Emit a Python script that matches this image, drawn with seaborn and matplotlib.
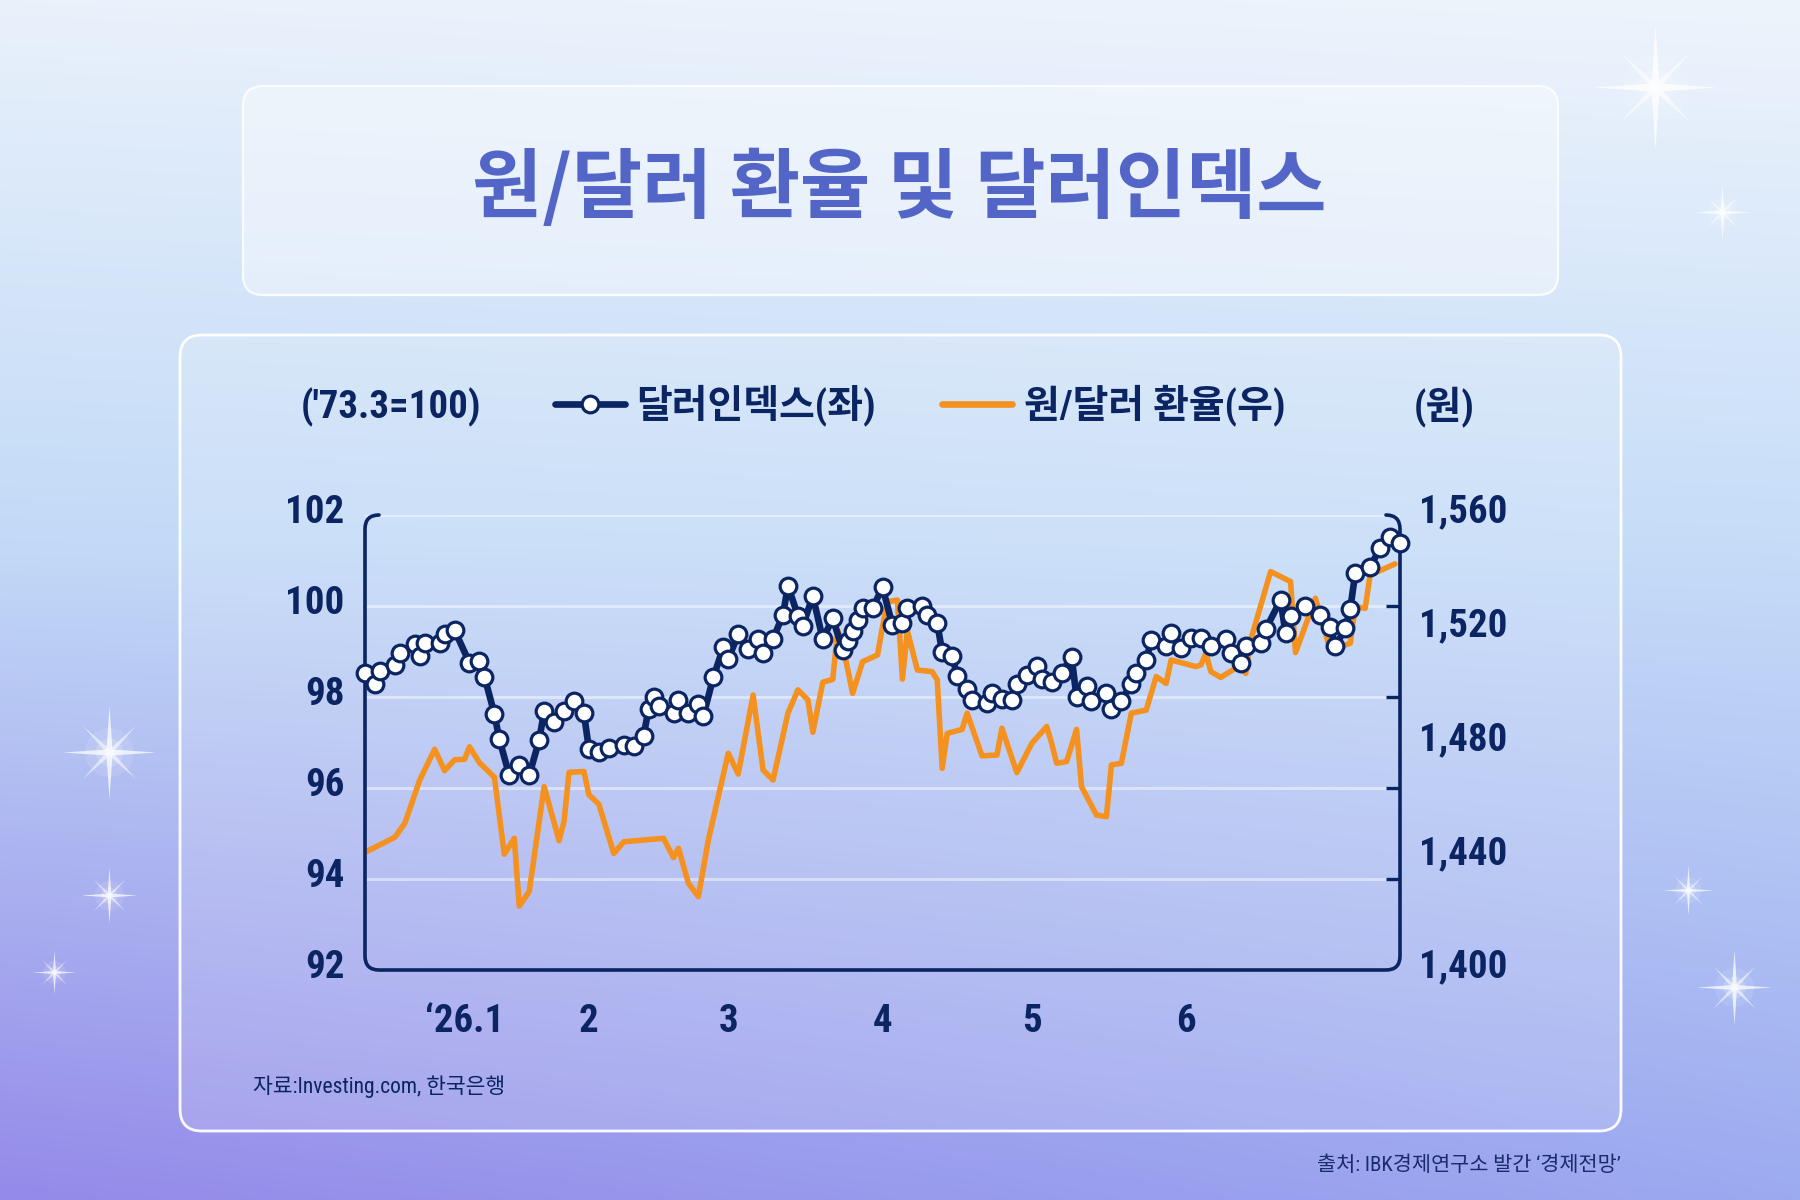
import numpy as np
import pandas as pd
import matplotlib.pyplot as plt
import seaborn as sns
from matplotlib import font_manager as fm
from matplotlib.lines import Line2D
from matplotlib.patches import FancyBboxPatch, PathPatch
from matplotlib.path import Path
from matplotlib.transforms import ScaledTranslation

# days counted from 2025-12-20
START = pd.Timestamp("2025-12-20")

dollar_day = [0, 2, 3, 6, 7, 10, 11, 12, 15, 16, 18, 21, 23, 24, 26, 27, 29, 31, 33, 35,
              36, 38, 40, 42, 44, 45, 47, 49, 52, 54, 56, 57, 58, 59, 62, 63, 65, 67, 68, 70,
              72, 73, 75, 77, 79, 80, 82, 84, 85, 87, 88, 90, 92, 94, 96, 97, 98, 99, 100, 102,
              104, 106, 108, 109, 112, 113, 115, 116, 118, 119, 121, 122, 125, 126, 128, 130,
              131, 133, 135, 136, 138, 140, 142, 143, 145, 146, 149, 150, 152, 154, 155, 157,
              158, 161, 162, 164, 166, 168, 170, 173, 174, 176, 177, 180, 181, 184, 185, 186,
              189, 192, 194, 195, 197, 198, 199, 202, 204, 206, 208]
dollar_index = [98.52, 98.29, 98.58, 98.70, 98.97, 99.16, 98.91, 99.18, 99.18, 99.38,
                99.47, 98.75, 98.80, 98.45, 97.63, 97.07, 96.28, 96.50, 96.28, 97.05,
                97.69, 97.44, 97.69, 97.91, 97.64, 96.86, 96.80, 96.89, 96.95, 96.93,
                97.15, 97.74, 98.00, 97.81, 97.65, 97.93, 97.65, 97.85, 97.59, 98.43,
                99.09, 98.83, 99.38, 99.05, 99.27, 98.97, 99.27, 99.81, 100.44, 99.79,
                99.57, 100.22, 99.27, 99.73, 99.03, 99.22, 99.45, 99.69, 99.95, 99.95,
                100.41, 99.58, 99.63, 99.95, 100.00, 99.80, 99.63, 98.98, 98.91, 98.46,
                98.18, 97.93, 97.86, 98.08, 97.96, 97.93, 98.28, 98.48, 98.68, 98.39,
                98.34, 98.53, 98.89, 97.99, 98.25, 97.92, 98.08, 97.74, 97.92, 98.29,
                98.53, 98.81, 99.25, 99.11, 99.40, 99.08, 99.29, 99.29, 99.13, 99.27,
                98.96, 98.75, 99.13, 99.19, 99.49, 100.13, 99.40, 99.79, 100.00, 99.80,
                99.53, 99.11, 99.51, 99.93, 100.72, 100.85, 101.28, 101.51, 101.38]

won_day = [0, 4, 6, 8, 11, 14, 16, 18, 20, 21, 23, 26, 28, 30, 31, 33, 36, 39, 40, 41,
           44, 45, 47, 50, 52, 60, 62, 63, 65, 67, 69, 73, 75, 78, 80, 82, 85, 87, 89, 90,
           92, 94, 95, 96, 98, 100, 103, 104, 105, 107, 108, 109, 111, 114, 115, 116, 117,
           120, 121, 124, 127, 128, 131, 134, 137, 138, 139, 141, 143, 144, 147, 149, 150,
           152, 154, 157, 159, 161, 162, 167, 168, 169, 170, 172, 176, 177, 178, 182, 186,
           187, 191, 194, 198, 199, 201, 202, 207]
won_rate = [1441.4, 1444.9, 1446.7, 1451.6, 1466.8, 1477.6, 1470.1, 1473.9, 1474.1, 1478.5,
            1472.9, 1467.8, 1440.7, 1446.3, 1422.5, 1427.6, 1464.5, 1445.5, 1452.2, 1469.5,
            1469.8, 1461.6, 1458.3, 1441.0, 1445.1, 1446.3, 1439.5, 1442.8, 1430.5, 1425.8,
            1445.7, 1476.2, 1468.9, 1496.7, 1470.3, 1466.8, 1490.3, 1498.5, 1495.0, 1483.6,
            1501.2, 1502.2, 1519.6, 1514.3, 1497.3, 1508.4, 1510.8, 1520.7, 1529.5, 1530.1,
            1502.3, 1519.3, 1505.5, 1504.9, 1502.0, 1470.9, 1483.2, 1484.6, 1490.3, 1475.3,
            1475.6, 1485.0, 1469.4, 1479.7, 1485.6, 1479.7, 1472.7, 1473.3, 1484.6, 1464.5,
            1454.5, 1453.9, 1472.1, 1472.7, 1490.3, 1491.4, 1503.2, 1500.8, 1509.0, 1506.7,
            1507.3, 1511.4, 1504.9, 1502.9, 1507.3, 1504.3, 1516.1, 1540.1, 1536.6, 1511.6,
            1530.7, 1512.5, 1514.9, 1527.8, 1527.2, 1538.9, 1542.8]

month_ticks = ["2026-01-01", "2026-02-01", "2026-03-01", "2026-04-01", "2026-05-01", "2026-06-01"]
month_labels = ["‘26.1", "2", "3", "4", "5", "6"]
left_ticks = [92, 94, 96, 98, 100, 102]
left_marks = [94, 96, 98, 100]
right_ticks = [1400, 1440, 1480, 1520, 1560]

TITLE = "원/달러 환율 및 달러인덱스"
LEGEND_LABELS = ["달러인덱스(좌)", "원/달러 환율(우)"]
LEFT_UNIT = "('73.3=100)"
RIGHT_UNIT = "(원)"
SOURCE = "자료:Investing.com, 한국은행"
CREDIT = "출처: IBK경제연구소 발간 ‘경제전망’"

NAVY = "#0b2462"
ORANGE = "#f4911f"
TITLE_BLUE = "#5366c8"

LMIN, LMAX = 92, 102
RMIN, RMAX = 1400, 1560

MS, MEW = 12, 2.3


def won_of(v):
    return RMIN + (v - LMIN) * (RMAX - RMIN) / (LMAX - LMIN)


sns.set_theme(style="white")
installed = {f.name for f in fm.fontManager.ttflist}
NARROW = next((n for n in ["Liberation Sans Narrow", "Roboto Condensed", "Noto Sans CJK KR"]
               if n in installed), "DejaVu Sans")
FAM = [NARROW, "Noto Sans CJK KR", "DejaVu Sans"]
plt.rcParams["font.family"] = FAM

dollar = pd.DataFrame({"date": START + pd.to_timedelta(dollar_day, unit="D"),
                       "value": dollar_index})
won = pd.DataFrame({"date": START + pd.to_timedelta(won_day, unit="D"),
                    "value": won_rate})

fig = plt.figure(figsize=(18, 12), dpi=100)

# background gradient, in pixel coordinates
bg = fig.add_axes([0, 0, 1, 1])
H, W = 300, 450
t = np.linspace(0, 1, H)
stops = [0, 0.45, 1]
left_cols = np.array([[233, 241, 251], [194, 218, 247], [148, 138, 233]]) / 255
right_cols = np.array([[238, 244, 252], [198, 221, 248], [156, 170, 240]]) / 255
lc = np.stack([np.interp(t, stops, left_cols[:, c]) for c in range(3)], axis=-1)
rc = np.stack([np.interp(t, stops, right_cols[:, c]) for c in range(3)], axis=-1)
s = np.linspace(0, 1, W)[None, :, None]
img = lc[:, None, :] * (1 - s) + rc[:, None, :] * s
bg.imshow(img, extent=(0, 1800, 1200, 0), aspect="auto", interpolation="bicubic")
bg.set_xlim(0, 1800)
bg.set_ylim(1200, 0)
bg.axis("off")

# frosted panels
bg.add_patch(FancyBboxPatch((243, 86), 1315, 209, boxstyle="round,pad=0,rounding_size=20",
                            facecolor=(1, 1, 1, 0.38), edgecolor=(1, 1, 1, 0.85), lw=1.6))
bg.add_patch(FancyBboxPatch((180, 335), 1441, 796, boxstyle="round,pad=0,rounding_size=22",
                            facecolor=(1, 1, 1, 0.14), edgecolor=(1, 1, 1, 0.95), lw=2.0))

# sparkles
def star_path(inner):
    ang = np.deg2rad(np.arange(0, 360, 45) + 90)
    r = np.where(np.arange(8) % 2 == 0, 1.0, inner)
    verts = np.column_stack([r * np.cos(ang), r * np.sin(ang)])
    return Path(np.vstack([verts, verts[:1]]), closed=True)

STAR4 = star_path(0.09)
rot = np.array([[np.cos(np.pi / 4), -np.sin(np.pi / 4)], [np.sin(np.pi / 4), np.cos(np.pi / 4)]])
STAR4D = Path(STAR4.vertices @ rot, closed=True)
sparkles = [(1655, 87, 1.0), (1722, 212, 0.45), (109, 752, 0.75), (109, 895, 0.45),
            (54, 972, 0.35), (1688, 890, 0.4), (1734, 987, 0.6)]
for sx, sy, sz in sparkles:
    bg.scatter([sx], [sy], s=2200 * sz ** 2, color="white", alpha=0.10, linewidths=0, zorder=3)
    bg.scatter([sx], [sy], s=700 * sz ** 2, color="white", alpha=0.18, linewidths=0, zorder=3)
    bg.scatter([sx], [sy], s=8000 * sz ** 2, marker=STAR4, color="white", alpha=0.75,
               linewidths=0, zorder=4)
    bg.scatter([sx], [sy], s=2600 * sz ** 2, marker=STAR4D, color="white", alpha=0.55,
               linewidths=0, zorder=4)

# title
fig.text(0.4994, 1 - 189 / 1200, TITLE, ha="center", va="center", fontsize=55,
         fontweight="bold", color=TITLE_BLUE, family=["Noto Sans CJK KR", "DejaVu Sans"])

# chart axes
rect = [365 / 1800, 1 - 970 / 1200, 1035 / 1800, 455 / 1200]
ax = fig.add_axes(rect)
ax2 = ax.twinx()
ax.set_zorder(3)
ax2.set_zorder(2)
ax.patch.set_visible(False)
ax2.patch.set_visible(False)

sns.lineplot(data=won, x="date", y="value", ax=ax2, color=ORANGE, linewidth=4.0,
             errorbar=None, zorder=3)
sns.lineplot(data=dollar, x="date", y="value", ax=ax, color=NAVY, linewidth=4.8,
             marker="o", markersize=MS, markerfacecolor="white", markeredgecolor=NAVY,
             markeredgewidth=MEW, errorbar=None, zorder=4, clip_on=False)

for a in (ax, ax2):
    for sp in a.spines.values():
        sp.set_visible(False)
    a.set_xlabel("")
    a.set_ylabel("")

ax.set_xlim(START, START + pd.Timedelta(days=208))
ax.set_ylim(LMIN, LMAX)
ax2.set_ylim(RMIN, RMAX)

# faint grid behind both lines
for v in left_marks + [LMAX]:
    ax2.axhline(won_of(v), color="white", alpha=0.45, lw=2.2, zorder=0)

tick_font = dict(family=FAM, weight="bold", size=28)

ax.set_yticks(left_ticks, labels=[str(v) for v in left_ticks])
ax.set_yticks(left_marks, minor=True)
ax.tick_params(axis="y", which="major", length=0, pad=15, labelcolor=NAVY, left=True, right=False)
ax.tick_params(axis="y", which="minor", direction="in", length=10, width=2.4, color=NAVY,
               left=True, right=False)
ax2.set_yticks(right_ticks, labels=[f"{v:,}" for v in right_ticks])
ax2.set_yticks([won_of(v) for v in left_marks], minor=True)
ax2.tick_params(axis="y", which="major", length=0, pad=14, labelcolor=NAVY, right=True, left=False)
ax2.tick_params(axis="y", which="minor", direction="in", length=10, width=2.4, color=NAVY,
                right=True, left=False)

ax.set_xticks(pd.to_datetime(month_ticks), labels=month_labels)
ax.xaxis.set_minor_locator(plt.NullLocator())
ax.tick_params(axis="x", which="both", length=0, pad=24, labelcolor=NAVY, bottom=True)

lift = ScaledTranslation(0, 5 / 72, fig.dpi_scale_trans)
for lab in ax.get_yticklabels() + ax2.get_yticklabels():
    lab.set(**tick_font)
    lab.set_transform(lab.get_transform() + lift)
for lab in ax.get_xticklabels():
    lab.set(**tick_font)
    lab.set_ha("left")

# frame with rounded corners (left, bottom, right)
rx, ry = 14 / 1035, 14 / 455
verts = [(rx, 1), (0, 1), (0, 1 - ry), (0, ry), (0, 0), (rx, 0), (1 - rx, 0), (1, 0), (1, ry),
         (1, 1 - ry), (1, 1), (1 - rx, 1)]
codes = [Path.MOVETO, Path.CURVE3, Path.CURVE3, Path.LINETO, Path.CURVE3, Path.CURVE3,
         Path.LINETO, Path.CURVE3, Path.CURVE3, Path.LINETO, Path.CURVE3, Path.CURVE3]
ax.add_patch(PathPatch(Path(verts, codes), transform=ax.transAxes, fill=False,
                       edgecolor=NAVY, lw=2.6, capstyle="round", clip_on=False, zorder=2))

# units and legend
fig.text(301 / 1800, 1 - 407 / 1200, LEFT_UNIT, ha="left", va="center", color=NAVY,
         family=FAM, weight="bold", size=28)
fig.text(1475 / 1800, 1 - 407 / 1200, RIGHT_UNIT, ha="right", va="center", color=NAVY,
         family=FAM, weight="bold", size=28)

handles = [Line2D([0], [0], color=NAVY, lw=4.8, marker="o", markersize=MS,
                  markerfacecolor="white", markeredgecolor=NAVY, markeredgewidth=MEW,
                  solid_capstyle="round"),
           Line2D([0], [0], color=ORANGE, lw=4.8, solid_capstyle="round")]
fig.legend(handles, LEGEND_LABELS, loc="center", bbox_to_anchor=(0.511, 1 - 405 / 1200),
           ncol=2, frameon=False, handlelength=1.8, handletextpad=0.3, columnspacing=1.7,
           prop=fm.FontProperties(family=FAM, weight="bold", size=28), labelcolor=NAVY)

fig.text(253 / 1800, 1 - 1087 / 1200, SOURCE, ha="left", va="center", color=NAVY,
         family=FAM, size=15.5)
fig.text(1621 / 1800, 1 - 1165 / 1200, CREDIT, ha="right", va="center", color="#1a2c6c",
         family=FAM, size=15)

fig.savefig("out.png", dpi=100)
plt.close(fig)
